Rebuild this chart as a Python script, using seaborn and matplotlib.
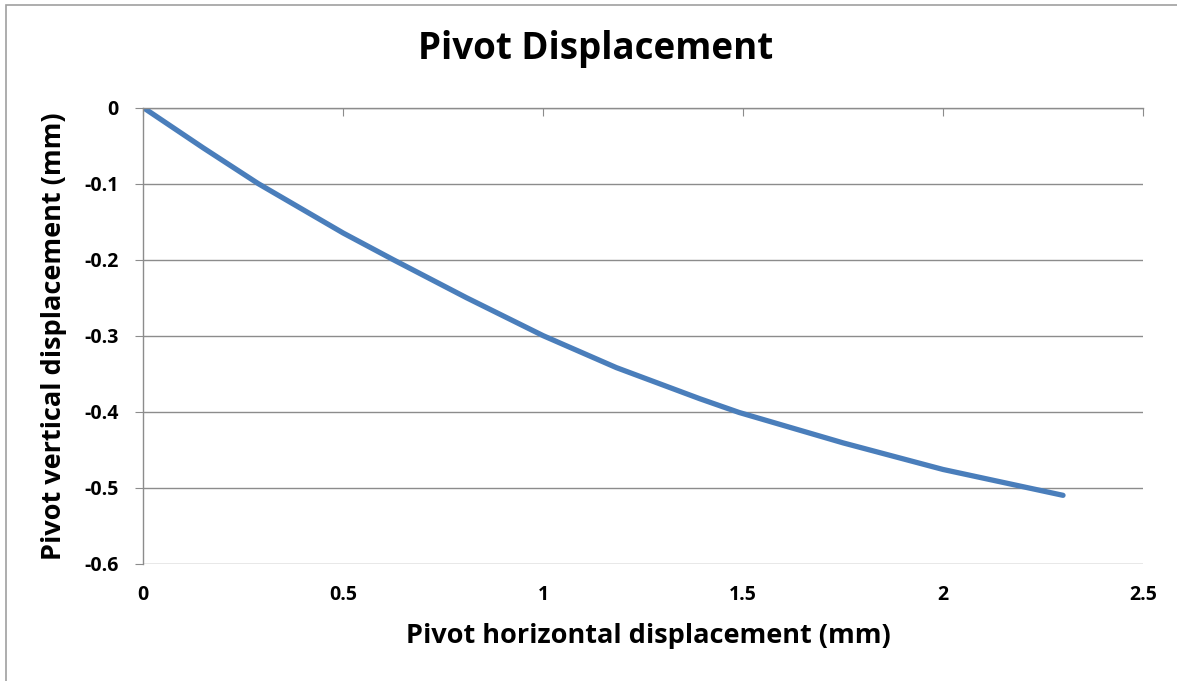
import matplotlib
matplotlib.use("Agg")
import matplotlib.pyplot as plt
import seaborn as sns
import pandas as pd
from matplotlib.patches import Rectangle

# --------------------------
# Data
# --------------------------
horiz_mm = [0.0, 0.15, 0.2875, 0.5, 0.625, 0.808, 1.0, 1.183, 1.392, 1.49, 1.75, 2.0, 2.3]
vert_mm = [0.0, -0.053, -0.1, -0.165, -0.2, -0.25, -0.3, -0.342, -0.383, -0.401, -0.441, -0.476, -0.51]
x_ticks = [0, 0.5, 1, 1.5, 2, 2.5]
x_tick_labels = ["0", "0.5", "1", "1.5", "2", "2.5"]
y_ticks = [0, -0.1, -0.2, -0.3, -0.4, -0.5, -0.6]
y_tick_labels = ["0", "-0.1", "-0.2", "-0.3", "-0.4", "-0.5", "-0.6"]

df = pd.DataFrame({"h": horiz_mm, "v": vert_mm})

# --------------------------
# Style
# --------------------------
sns.set_style("white")
plt.rcParams["font.family"] = ["Open Sans", "DejaVu Sans"]
plt.rcParams["text.color"] = "black"
GRID = "#8c8c8c"
BLUE = "#4a7ebb"

fig = plt.figure(figsize=(11.77, 6.81), dpi=100)
ax = fig.add_axes([0.1218, 0.1722, 0.8493, 0.6697])

sns.lineplot(data=df, x="h", y="v", ax=ax, color=BLUE, linewidth=3.8,
             solid_capstyle="round", solid_joinstyle="round", sort=False)

ax.set_xlim(0, 2.5)
ax.set_ylim(-0.6, 0)
ax.set_xticks(x_ticks)
ax.set_xticklabels(x_tick_labels)
ax.set_yticks(y_ticks)
ax.set_yticklabels(y_tick_labels)

# horizontal gridlines only
ax.yaxis.grid(True, color=GRID, linewidth=1.0)
ax.xaxis.grid(False)
ax.set_axisbelow(True)

for side in ["right", "bottom"]:
    ax.spines[side].set_visible(False)
for side in ["left", "top"]:
    ax.spines[side].set_color(GRID)
    ax.spines[side].set_linewidth(1.0)

# x axis crosses at y=0 (top), labels low
ax.tick_params(axis="x", top=True, bottom=False, labeltop=False, labelbottom=True,
               direction="in", length=6, color=GRID, pad=15, labelsize=14,
               labelcolor="black")
ax.tick_params(axis="y", left=True, direction="out", length=6, color=GRID,
               pad=12, labelsize=14, labelcolor="black")
for lbl in ax.get_xticklabels() + ax.get_yticklabels():
    lbl.set_fontweight("bold")

ax.set_xlabel("")
ax.set_ylabel("")
fig.text(0.551, 0.066, "Pivot horizontal displacement (mm)", ha="center", va="center",
         fontsize=19.5, fontweight="bold")
fig.text(0.046, 0.507, "Pivot vertical displacement (mm)", ha="center", va="center",
         rotation=90, fontsize=19.5, fontweight="bold")
fig.text(0.506, 0.928, "Pivot Displacement", ha="center", va="center",
         fontsize=26.5, fontweight="bold")

# chart frame (only left/top edges visible in the crop)
fig.patches.append(Rectangle((0.005, -0.05), 1.1, 1.043, transform=fig.transFigure,
                             fill=False, edgecolor="#a0a0a0", linewidth=1.2))

fig.savefig("out.png", dpi=100)
